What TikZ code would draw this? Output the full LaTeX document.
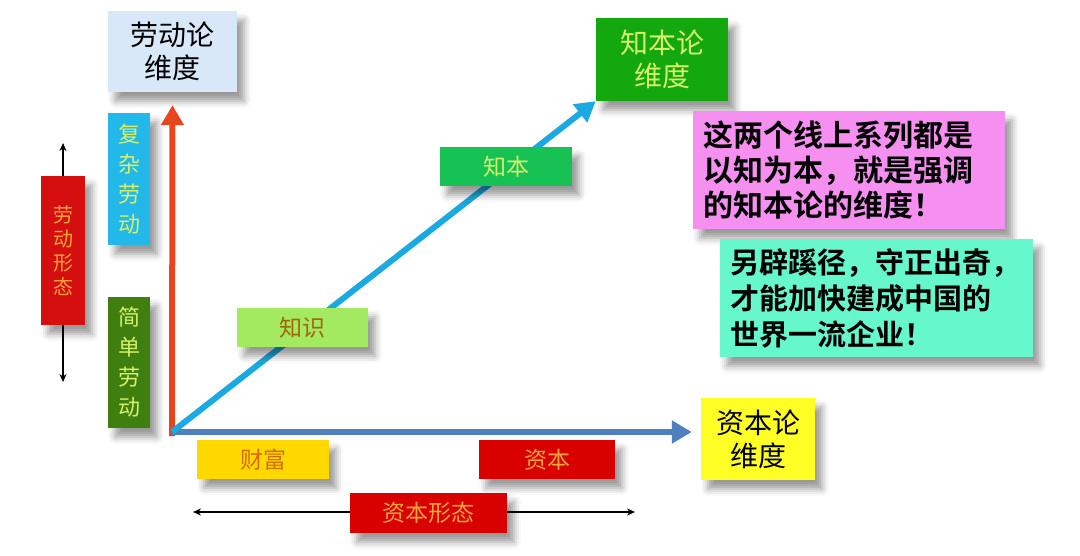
\documentclass[tikz,border=0pt]{standalone}
\usepackage{fontspec}
\usepackage{tikz}
\usetikzlibrary{positioning,arrows.meta,shadows.blur,calc}
\setmainfont{Noto Sans CJK SC}[BoldFont={Noto Sans CJK SC Bold}]
\definecolor{labBlue}{HTML}{D9E8F8}
\definecolor{complexCyan}{HTML}{22B8EA}
\definecolor{simpleGreen}{HTML}{3F7F10}
\definecolor{formRed}{HTML}{D50F0F}
\definecolor{paleLime}{HTML}{D6F06A}
\definecolor{softOrange}{HTML}{F7A53A}
\definecolor{axisRed}{HTML}{E6461E}
\definecolor{axisBlue}{HTML}{4E7FBE}
\definecolor{axisCyan}{HTML}{1BA9E1}
\definecolor{knowLime}{HTML}{A4EA60}
\definecolor{knowBrown}{HTML}{A0660A}
\definecolor{rootGreen}{HTML}{16C253}
\definecolor{dimGreen}{HTML}{13A80E}
\definecolor{notePink}{HTML}{F590F0}
\definecolor{noteAqua}{HTML}{66F7CC}
\definecolor{capYellow}{HTML}{FFFF26}
\definecolor{wealthGold}{HTML}{FFD800}
\definecolor{wealthText}{HTML}{D86A00}
\definecolor{capRed}{HTML}{D90000}

\begin{document}
\begin{tikzpicture}[x=1pt, y=-1pt,
  box/.style={inner sep=0pt, align=center,
    blur shadow={shadow xshift=7pt, shadow yshift=-9pt, shadow blur radius=7pt, shadow opacity=40}},
  bigArrow/.style={line width=6pt, -{Triangle[width=22pt,length=20pt]}},
  thinArrow/.style={line width=1.3pt, -{Stealth[length=8pt,width=7pt]}}]
  \useasboundingbox (0,0) rectangle (1080,555);

  % labour side
  \node[box, fill=labBlue, minimum width=129pt, minimum height=81pt,
    font=\fontsize{28}{33}\selectfont] (labDim) at (172.5,51.5) {劳动论\\维度};
  \node[box, fill=complexCyan, text=paleLime, minimum width=42pt, minimum height=132pt,
    font=\fontsize{22}{30}\selectfont] (complexBox) at (129,179) {复\\杂\\劳\\动};
  \node[box, fill=simpleGreen, text=paleLime, minimum width=42pt, minimum height=131pt,
    font=\fontsize{22}{30}\selectfont] (simpleBox) at (129,362.5) {简\\单\\劳\\动};
  \node[box, fill=formRed, text=softOrange, minimum width=44pt, minimum height=149pt,
    font=\fontsize{20}{24}\selectfont] (labForm) at (63,250.5) {劳\\动\\形\\态};
  \coordinate (labTop) at (63,143);
  \coordinate (labBot) at (63,382);
  \draw[thinArrow] (labForm.north) -- (labTop);
  \draw[thinArrow] (labForm.south) -- (labBot);

  % axes
  \coordinate (o) at (172,432);
  \node[box, fill=dimGreen, text=paleLime, minimum width=132pt, minimum height=83pt,
    font=\fontsize{28}{33}\selectfont] (knowDim) at (662,59.5) {知本论\\维度};
  \node[box, fill=capYellow, minimum width=114pt, minimum height=82pt,
    font=\fontsize{28}{33}\selectfont] (capDim) at (758,439) {资本论\\维度};
  \draw[bigArrow, axisRed, shorten >=13pt] ([yshift=-4pt]o) -- (labDim.south);
  \draw[bigArrow, axisBlue, shorten >=9pt] (o) -- (o -| capDim.west);
  \draw[bigArrow, axisCyan] (o) -- (knowDim.south west);

  \node[box, fill=knowLime, text=knowBrown, minimum width=131pt, minimum height=39pt,
    font=\fontsize{23}{26}\selectfont] (knowBox) at (302.5,327.5) {知识};
  \node[box, fill=rootGreen, text=paleLime, minimum width=132pt, minimum height=39pt,
    font=\fontsize{23}{26}\selectfont] (rootBox) at (506,166.5) {知本};

  % capital side
  \node[box, fill=wealthGold, text=wealthText, minimum width=132pt, minimum height=39pt,
    font=\fontsize{23}{26}\selectfont] (wealthBox) at (263,459.5) {财富};
  \node[box, fill=capRed, text=softOrange, minimum width=136pt, minimum height=39pt,
    font=\fontsize{23}{26}\selectfont] (capBox) at (547,459.5) {资本};
  \coordinate (capLeft) at (193,512);
  \coordinate (capRight) at (635,512);
  \draw[thinArrow, {Stealth[length=8pt,width=7pt]}-{Stealth[length=8pt,width=7pt]}] (capLeft) -- (capRight);
  \node[box, fill=capRed, text=softOrange, minimum width=157pt, minimum height=40pt,
    font=\fontsize{23}{26}\selectfont] (capForm) at (428.5,513) {资本形态};

  % notes
  \node[box, fill=notePink, align=left, inner xsep=10pt, text width=292pt, minimum height=118pt,
    font=\bfseries\fontsize{30}{35}\selectfont] (noteA) at (849,170)
    {这两个线上系列都是\\以知为本，就是强调\\的知本论的维度！};
  \node[box, fill=noteAqua, align=left, inner xsep=10pt, text width=293pt, minimum height=118pt,
    font=\bfseries\fontsize{29}{36}\selectfont] (noteB) at (876.5,298)
    {另辟蹊径，守正出奇，\\才能加快建成中国的\\世界一流企业！};
\end{tikzpicture}
\end{document}
